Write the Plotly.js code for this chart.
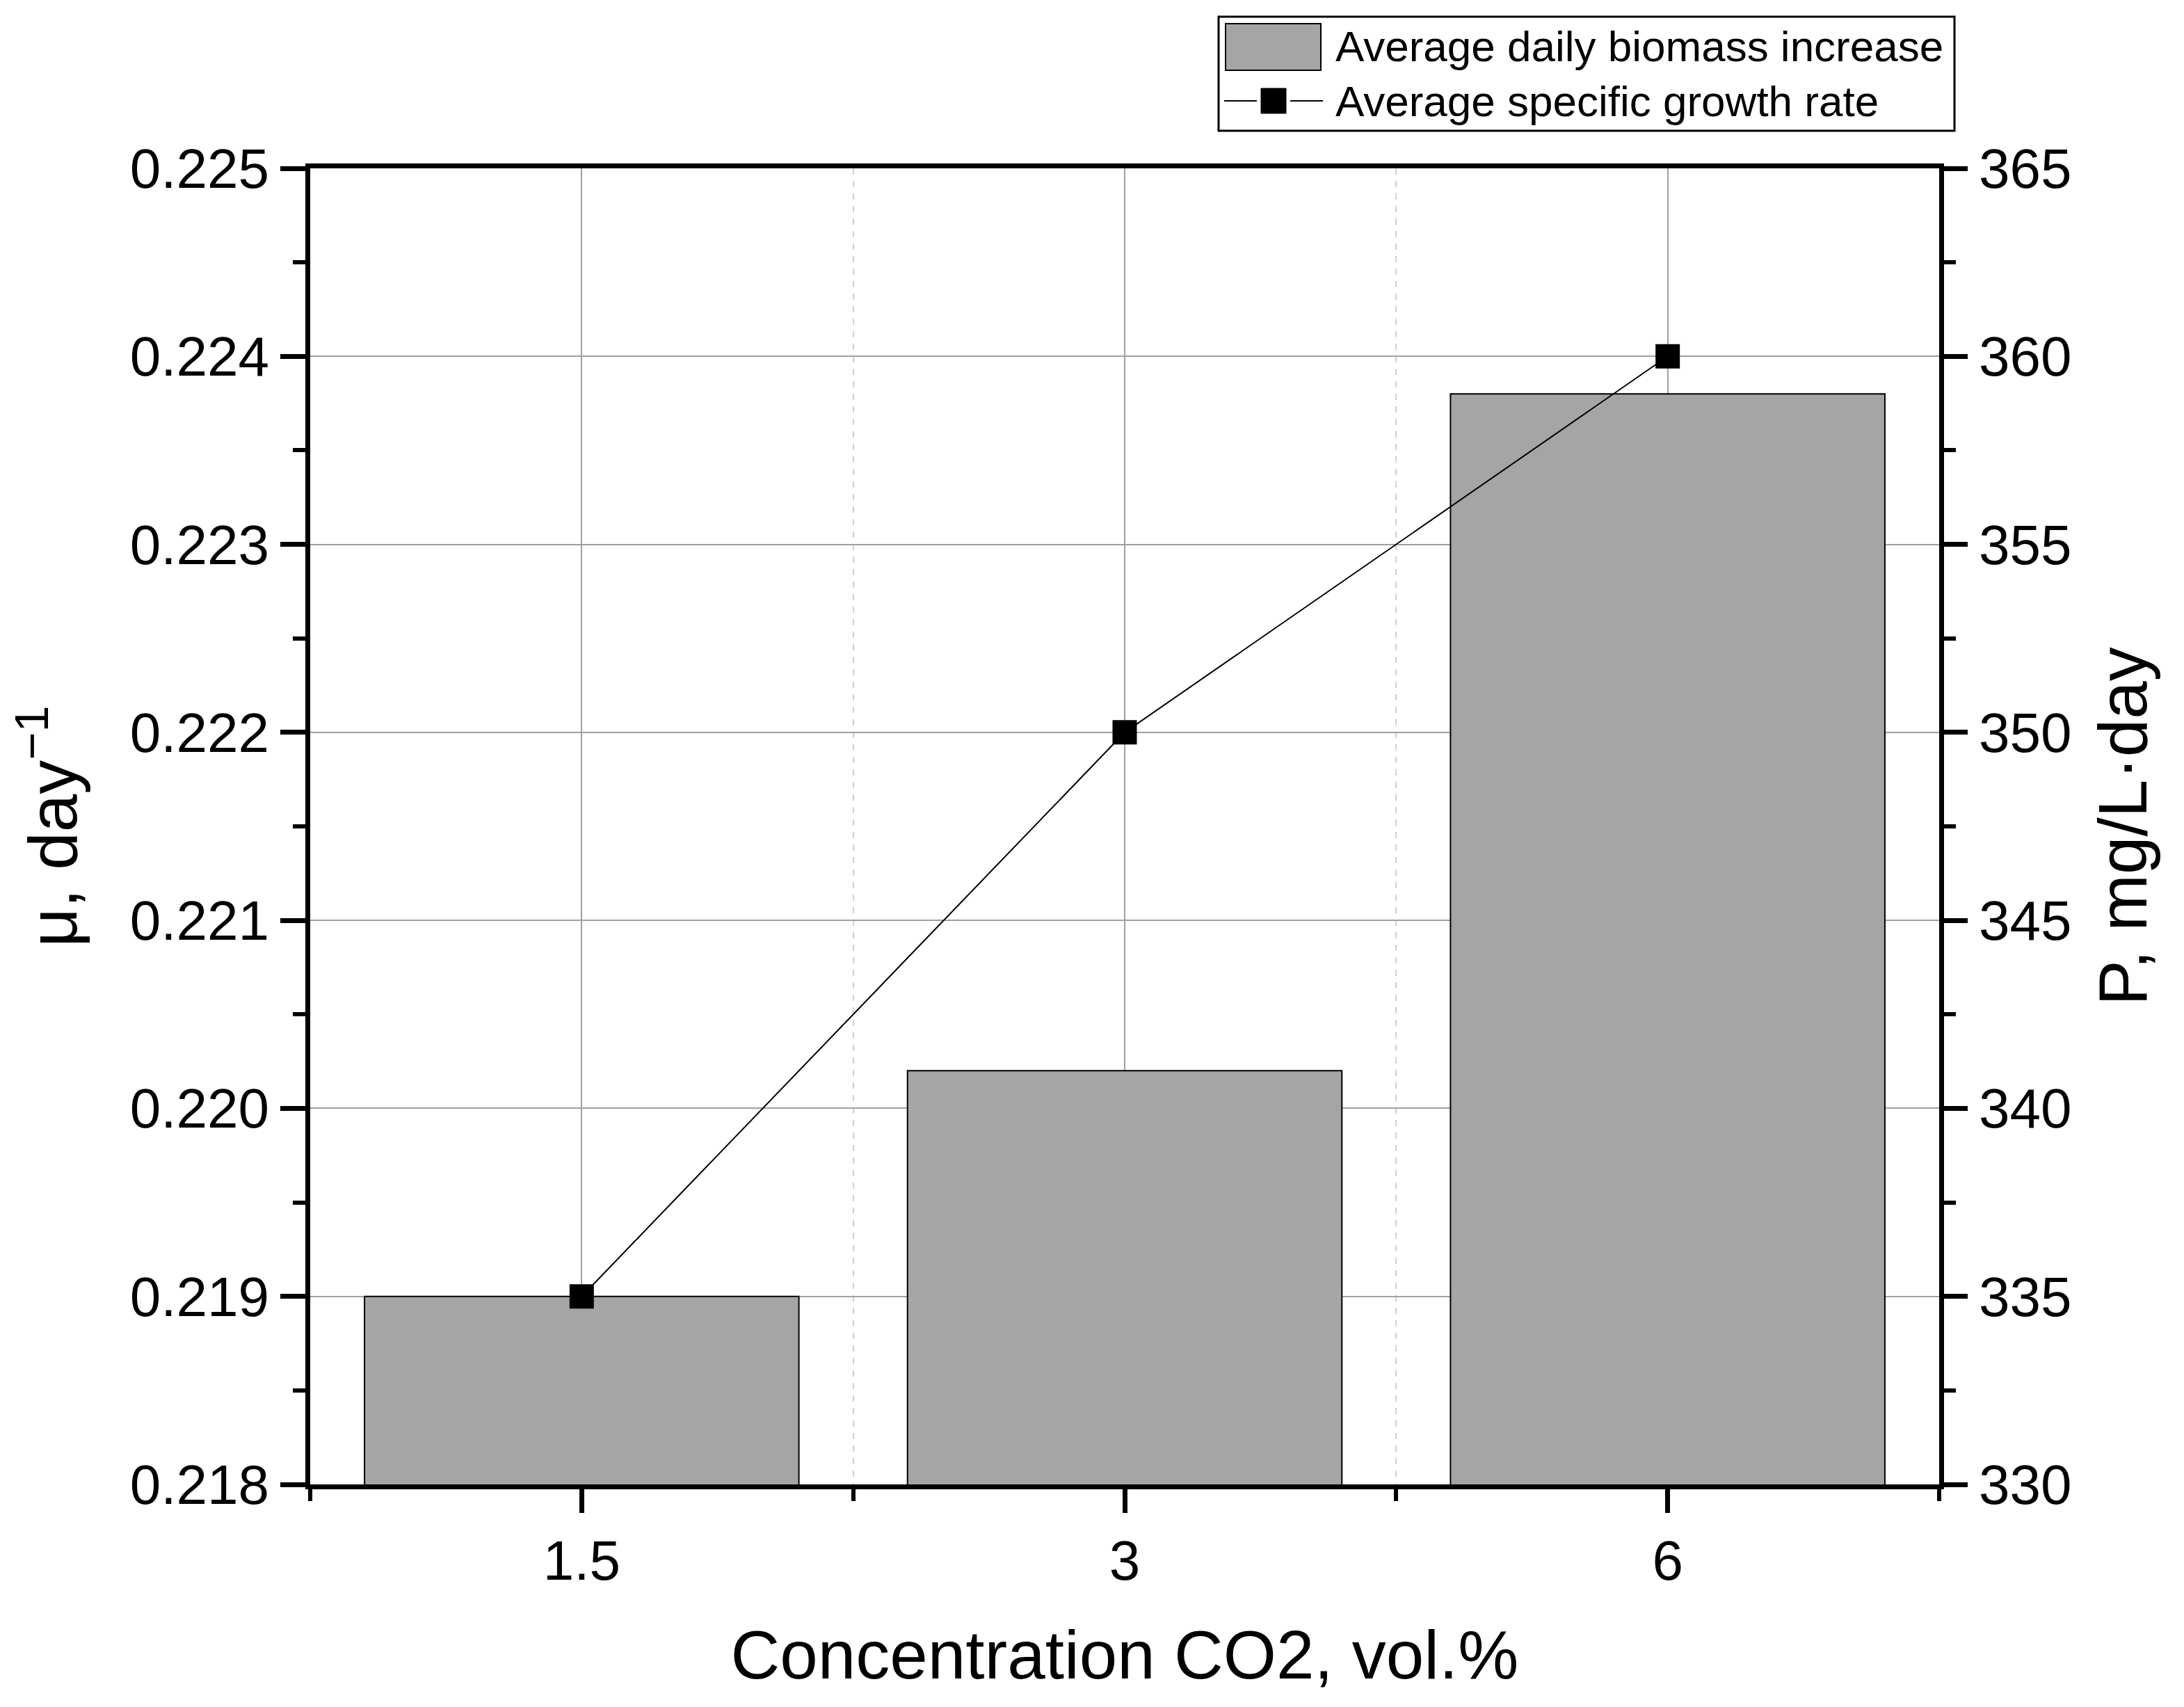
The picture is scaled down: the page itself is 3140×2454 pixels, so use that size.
<!DOCTYPE html>
<html>
<head>
<meta charset="utf-8">
<script src="https://cdn.plot.ly/plotly-3.0.1.min.js"></script>
<style>
  html, body { margin: 0; padding: 0; background: #ffffff; }
  #chart { width: 3140px; height: 2454px; }
</style>
</head>
<body>
<div id="chart"></div>
<script>
// ---- data ----
const categories = ['1.5', '3', '6'];            // CO2 concentration, vol.%
const biomassIncrease = [335, 341, 359];         // P, mg/L·day (right axis, bars)
const growthRate = [0.219, 0.222, 0.224];        // μ, day^-1 (left axis, line)
const leftTicks = [0.218, 0.219, 0.220, 0.221, 0.222, 0.223, 0.224, 0.225];
const rightTicks = [330, 335, 340, 345, 350, 355, 360, 365];
const seriesNames = ['Average daily biomass increase', 'Average specific growth rate'];

const xPos = categories.map((c, i) => i);

const FONT = 'Liberation Sans, Arial, Helvetica, sans-serif';
const W = 3140, H = 2454;
const M = { l: 446, r: 352, t: 242, b: 320 };
const PW = W - M.l - M.r, PH = H - M.t - M.b;
// pixel -> paper coordinate helpers (for the legend box drawn as decoration)
const px = v => (v - M.l) / PW;
const py = v => (H - M.b - v) / PH;

const BAR_COLOR = '#a5a5a5';

const barTrace = {
  type: 'bar',
  name: seriesNames[0],
  x: xPos,
  y: biomassIncrease,
  width: 0.8,
  yaxis: 'y',
  marker: { color: BAR_COLOR, line: { color: '#000000', width: 2 } },
  hoverinfo: 'skip',
  showlegend: false
};

const lineTrace = {
  type: 'scatter',
  mode: 'lines+markers',
  name: seriesNames[1],
  x: xPos,
  y: growthRate,
  yaxis: 'y2',
  line: { color: '#000000', width: 2 },
  marker: { symbol: 'square', size: 35, color: '#000000' },
  hoverinfo: 'skip',
  showlegend: false
};

// legend (Origin-style box) drawn as paper shapes + annotations
const legendShapes = [
  { type: 'rect', xref: 'paper', yref: 'paper', x0: px(1752), x1: px(2810), y0: py(188), y1: py(24),
    line: { color: '#000000', width: 3 }, fillcolor: '#ffffff', layer: 'above' },
  { type: 'rect', xref: 'paper', yref: 'paper', x0: px(1762), x1: px(1899), y0: py(101), y1: py(34),
    line: { color: '#000000', width: 2 }, fillcolor: BAR_COLOR, layer: 'above' },
  { type: 'line', xref: 'paper', yref: 'paper', x0: px(1760), x1: px(1807), y0: py(145), y1: py(145),
    line: { color: '#000000', width: 2 }, layer: 'above' },
  { type: 'line', xref: 'paper', yref: 'paper', x0: px(1855), x1: px(1902), y0: py(145), y1: py(145),
    line: { color: '#000000', width: 2 }, layer: 'above' },
  { type: 'rect', xref: 'paper', yref: 'paper', x0: px(1813), x1: px(1849), y0: py(163), y1: py(127),
    line: { color: '#000000', width: 1 }, fillcolor: '#000000', layer: 'above' }
];
const legendAnnotations = [
  { xref: 'paper', yref: 'paper', x: px(1918), y: py(67), xanchor: 'left', yanchor: 'middle',
    text: seriesNames[0], showarrow: false, font: { family: FONT, size: 62, color: '#000000' } },
  { xref: 'paper', yref: 'paper', x: px(1918), y: py(145), xanchor: 'left', yanchor: 'middle',
    text: seriesNames[1], showarrow: false, font: { family: FONT, size: 62, color: '#000000' } }
];

const layout = {
  width: W,
  height: H,
  margin: { l: M.l, r: M.r, t: M.t, b: M.b, pad: 0 },
  paper_bgcolor: '#ffffff',
  plot_bgcolor: '#ffffff',
  font: { family: FONT, size: 80, color: '#000000' },
  showlegend: false,
  shapes: legendShapes,
  annotations: legendAnnotations,
  xaxis: {
    range: [-0.5, 2.5],
    tickmode: 'array',
    tickvals: xPos,
    ticktext: categories,
    ticks: 'outside',
    ticklen: 34,
    tickwidth: 7,
    tickcolor: '#000000',
    showline: true,
    linewidth: 7,
    linecolor: '#000000',
    mirror: true,
    zeroline: false,
    showgrid: true,
    gridcolor: '#a0a0a0',
    gridwidth: 2,
    tickfont: { size: 80 },
    minor: {
      tick0: 0.5, dtick: 1,
      ticks: 'outside', ticklen: 17, tickwidth: 6, tickcolor: '#000000',
      showgrid: true, gridcolor: '#cfcfcf', gridwidth: 2, griddash: 'dash'
    },
    title: { text: 'Concentration CO2, vol.%', font: { size: 98 }, standoff: 60 }
  },
  yaxis: {
    side: 'right',
    range: [330, 365],
    tickmode: 'array',
    tickvals: rightTicks,
    ticktext: rightTicks.map(v => String(v)),
    ticks: 'outside',
    ticklen: 34,
    tickwidth: 7,
    tickcolor: '#000000',
    showline: true,
    linewidth: 7,
    linecolor: '#000000',
    zeroline: false,
    showgrid: true,
    gridcolor: '#a0a0a0',
    gridwidth: 2,
    tickfont: { size: 80 },
    minor: {
      tick0: 332.5, dtick: 5,
      ticks: 'outside', ticklen: 17, tickwidth: 6, tickcolor: '#000000',
      showgrid: false
    },
    title: { text: 'P, mg/L·day', font: { size: 98 }, standoff: 42 }
  },
  yaxis2: {
    overlaying: 'y',
    side: 'left',
    range: [0.218, 0.225],
    tickmode: 'array',
    tickvals: leftTicks,
    ticktext: leftTicks.map(v => v.toFixed(3)),
    ticks: 'outside',
    ticklen: 36,
    tickwidth: 7,
    tickcolor: '#000000',
    showline: true,
    linewidth: 7,
    linecolor: '#000000',
    zeroline: false,
    showgrid: false,
    tickfont: { size: 80 },
    minor: {
      tick0: 0.2185, dtick: 0.001,
      ticks: 'outside', ticklen: 18, tickwidth: 6, tickcolor: '#000000',
      showgrid: false
    },
    title: { text: 'μ, day<sup>−1</sup>', font: { size: 98 }, standoff: 46 }
  }
};

Plotly.newPlot('chart', [barTrace, lineTrace], layout, { staticPlot: true, displayModeBar: false });
</script>
</body>
</html>
